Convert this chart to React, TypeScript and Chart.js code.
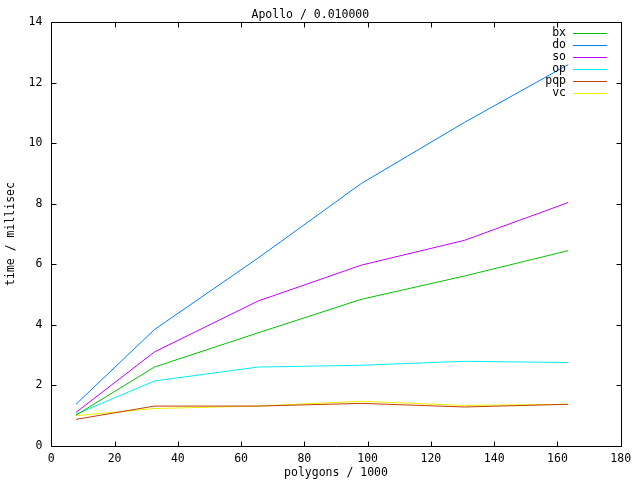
import React, { useEffect, useRef } from "react";
import { Chart, registerables } from "chart.js";

Chart.register(...registerables);

const polygons = [7.8, 32.6, 65.3, 98.0, 130.6, 163.4];
const bx = [1.01, 2.6, 3.73, 4.84, 5.61, 6.45];
const doSeries = [1.37, 3.84, 6.2, 8.67, 10.69, 12.6];
const so = [1.1, 3.1, 4.78, 5.97, 6.79, 8.04];
const op = [1.04, 2.14, 2.6, 2.66, 2.79, 2.75];
const pqp = [0.87, 1.31, 1.31, 1.4, 1.28, 1.37];
const vc = [0.99, 1.23, 1.31, 1.47, 1.33, 1.37];

const seriesNames = ["bx", "do", "so", "op", "pqp", "vc"];
const seriesValues = [bx, doSeries, so, op, pqp, vc];
const seriesColors = ["#00c000", "#0080ff", "#c000ff", "#00eeee", "#c04000", "#eeee00"];

const titleText = "Apollo / 0.010000";
const xTitle = "polygons / 1000";
const yTitle = "time / millisec";

const FONT = "'DejaVu Sans Mono', monospace";
const FSIZE = 11.5;

const framePlugin = {
  id: "frame",
  beforeDatasetsDraw(chart: any) {
    const { ctx, chartArea, scales } = chart;
    const l = Math.round(chartArea.left) + 0.5;
    const r = Math.round(chartArea.right) + 0.5;
    const t = Math.round(chartArea.top) + 0.5;
    const b = Math.round(chartArea.bottom) + 0.5;
    ctx.save();
    ctx.strokeStyle = "#000";
    ctx.lineWidth = 1;
    ctx.beginPath();
    ctx.rect(l, t, r - l, b - t);
    const tl = 5;
    scales.x.ticks.forEach((tk: any) => {
      const px = Math.round(scales.x.getPixelForValue(tk.value)) + 0.5;
      ctx.moveTo(px, b);
      ctx.lineTo(px, b - tl);
      ctx.moveTo(px, t);
      ctx.lineTo(px, t + tl);
    });
    scales.y.ticks.forEach((tk: any) => {
      const py = Math.round(scales.y.getPixelForValue(tk.value)) + 0.5;
      ctx.moveTo(l, py);
      ctx.lineTo(l + tl, py);
      ctx.moveTo(r, py);
      ctx.lineTo(r - tl, py);
    });
    ctx.stroke();
    ctx.restore();
  },
};

const legendPlugin = {
  id: "gpLegend",
  afterDraw(chart: any) {
    const { ctx } = chart;
    ctx.save();
    ctx.font = `${FSIZE}px ${FONT}`;
    ctx.textAlign = "right";
    ctx.textBaseline = "middle";
    chart.data.datasets.forEach((ds: any, i: number) => {
      const y = 32.7 + 12 * i;
      ctx.fillStyle = "#000";
      ctx.fillText(ds.label, 566, y);
      ctx.fillStyle = seriesColors[i];
      ctx.fillRect(573, Math.round(y), 34, 1);
    });
    ctx.restore();
  },
};

export default function App() {
  const ref = useRef<HTMLCanvasElement>(null);
  useEffect(() => {
    document.body.style.margin = "0";
    if (!ref.current) return;
    const chart = new Chart(ref.current, {
      type: "line",
      data: {
        datasets: seriesNames.map((name, i) => ({
          label: name,
          data: polygons.map((x, j) => ({ x, y: seriesValues[i][j] })),
          borderColor: seriesColors[i],
          backgroundColor: seriesColors[i],
          borderWidth: 1,
          pointRadius: 0,
          tension: 0,
          fill: false,
        })),
      },
      options: {
        responsive: false,
        animation: false,
        layout: { padding: { left: 0, right: 19.3, top: 0, bottom: 0 } },
        plugins: {
          legend: { display: false },
          tooltip: { enabled: false },
          title: {
            display: true,
            text: titleText,
            color: "#000",
            font: { family: FONT, size: FSIZE, weight: "normal", lineHeight: 1.2 },
            padding: { top: 8.5, bottom: 0 },
          },
        },
        scales: {
          x: {
            type: "linear",
            min: 0,
            max: 180,
            grid: { display: false, drawTicks: false },
            border: { display: false },
            ticks: {
              stepSize: 20,
              color: "#000",
              padding: 6,
              maxRotation: 0,
              font: { family: FONT, size: FSIZE },
            },
            title: {
              display: true,
              text: xTitle,
              color: "#000",
              font: { family: FONT, size: FSIZE, lineHeight: 1.2 },
              padding: { top: 0, bottom: 0 },
            },
            afterFit(scale: any) {
              scale.height = 34.3;
            },
          },
          y: {
            type: "linear",
            min: 0,
            max: 14,
            grid: { display: false, drawTicks: false },
            border: { display: false },
            ticks: {
              stepSize: 2,
              color: "#000",
              padding: 9,
              font: { family: FONT, size: FSIZE },
            },
            title: {
              display: true,
              text: yTitle,
              color: "#000",
              font: { family: FONT, size: FSIZE, lineHeight: 1.2 },
              padding: { top: 4, bottom: 0 },
            },
            afterFit(scale: any) {
              scale.width = 51.3;
            },
          },
        },
      },
      plugins: [framePlugin, legendPlugin],
    });
    return () => chart.destroy();
  }, []);
  return (
    <div style={{ width: 640, height: 480 }}>
      <canvas ref={ref} width={640} height={480} style={{ display: "block" }} />
    </div>
  );
}
